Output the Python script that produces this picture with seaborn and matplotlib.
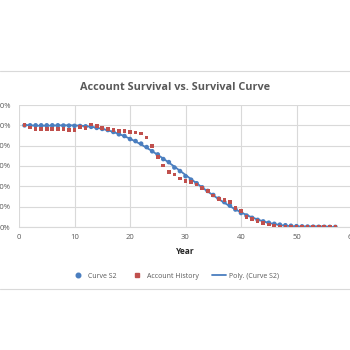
import matplotlib
matplotlib.use("Agg")
import matplotlib.pyplot as plt
import seaborn as sns
import numpy as np
from matplotlib.lines import Line2D
from matplotlib.ticker import PercentFormatter

# values
years = list(range(1, 58))
curve_s2 = [
    1.00, 1.00, 1.00, 1.00, 1.00, 1.00, 1.00, 0.998, 0.997, 0.995,
    0.993, 0.99, 0.985, 0.975, 0.965, 0.954, 0.935, 0.912, 0.895, 0.865,
    0.845, 0.82, 0.786, 0.745, 0.714, 0.668, 0.638, 0.585, 0.55, 0.50,
    0.465, 0.43, 0.39, 0.355, 0.315, 0.28, 0.245, 0.21, 0.172, 0.138,
    0.112, 0.09, 0.07, 0.055, 0.042, 0.031, 0.023, 0.017, 0.012, 0.008,
    0.006, 0.004, 0.003, 0.002, 0.002, 0.001, 0.001,
]
account_history = [
    1.005, 0.98, 0.963, 0.963, 0.963, 0.963, 0.963, 0.963, 0.955, 0.955,
    0.986, 0.977, 1.008, 0.996, 0.977, 0.963, 0.954, 0.947, 0.944, 0.937,
    0.928, 0.92, 0.88, 0.80, 0.69, 0.605, 0.543, 0.516, 0.477, 0.45,
    0.44, 0.418, 0.385, 0.352, 0.31, 0.276, 0.263, 0.247, 0.188, 0.155,
    0.10, 0.08, 0.056, 0.04, 0.025, 0.012, 0.006, 0.005, 0.004, 0.004,
    0.003, 0.003, 0.003, 0.003, 0.003, 0.003, 0.003,
]
y_ticks = [0, 0.2, 0.4, 0.6, 0.8, 1.0, 1.2]
x_ticks = [0, 10, 20, 30, 40, 50, 60]

BLUE = "#4a7ebf"
RED = "#c0504d"
GRID = "#d9d9d9"
TEXT = "#595959"

sns.set_style("white")
plt.rcParams["font.family"] = ["Open Sans", "DejaVu Sans"]

fig = plt.figure(figsize=(3.5, 3.5), dpi=100)
ax = fig.add_axes([19 / 350, 1 - 227 / 350, 333 / 350, 122 / 350])

sns.regplot(x=years, y=curve_s2, order=6, scatter=False, ci=None, ax=ax,
            line_kws={"color": BLUE, "lw": 1.3, "zorder": 2})
sns.scatterplot(x=years, y=curve_s2, ax=ax, color=BLUE, marker="o", s=11,
                edgecolor="none", zorder=3)
sns.scatterplot(x=years, y=account_history, ax=ax, color=RED, marker="s", s=7,
                edgecolor="none", zorder=4)

ax.set_xlim(0, 60)
ax.set_ylim(0, 1.2)
ax.set_xticks(x_ticks)
ax.set_yticks(y_ticks)
ax.yaxis.set_major_formatter(PercentFormatter(1.0, decimals=0))
ax.grid(True, color=GRID, lw=0.8)
ax.set_axisbelow(True)
for s in ["top", "right", "left"]:
    ax.spines[s].set_visible(False)
ax.spines["bottom"].set_color(GRID)
ax.tick_params(length=0, labelsize=5.5, labelcolor=TEXT)
ax.tick_params(axis="y", pad=6)
ax.tick_params(axis="x", pad=5)
ax.set_xlabel("Year", fontsize=6, fontweight="bold", color="#262626", labelpad=4)
ax.set_ylabel("")

fig.text(0.5, 1 - 87 / 350, "Account Survival vs. Survival Curve", ha="center",
         va="center", fontsize=7.8, fontweight="bold", color=TEXT)

handles = [
    Line2D([], [], color=BLUE, marker="o", ls="none", ms=3.3),
    Line2D([], [], color=RED, marker="s", ls="none", ms=2.6),
    Line2D([], [], color=BLUE, lw=1.3),
]
fig.legend(handles, ["Curve S2", "Account History", "Poly. (Curve S2)"],
           loc="center", bbox_to_anchor=(0.5, 1 - 276 / 350), ncol=3,
           frameon=False, fontsize=5.0, labelcolor=TEXT, handlelength=2.0,
           columnspacing=2.0, handletextpad=0.4)

for yy in [71, 289]:
    fig.add_artist(Line2D([0, 1], [1 - yy / 350] * 2, color=GRID, lw=0.8,
                          transform=fig.transFigure))

fig.savefig("out.png", dpi=100)
